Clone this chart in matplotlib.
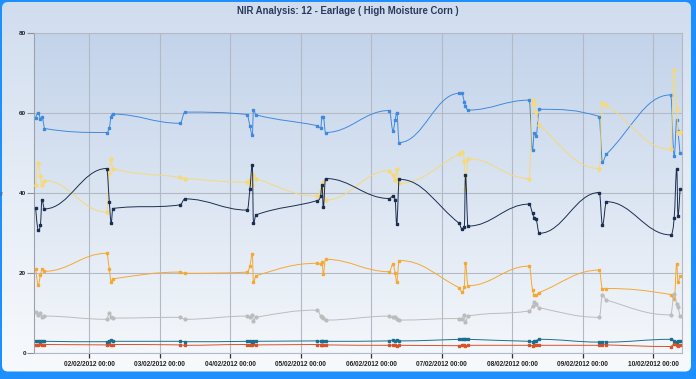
import numpy as np
import pandas as pd
import matplotlib
matplotlib.use('Agg')
from matplotlib import pyplot as plt
import matplotlib.dates as mdates
from matplotlib.path import Path
from matplotlib.patches import PathPatch, FancyBboxPatch
from matplotlib.colors import LinearSegmentedColormap

plt.rcParams['font.family'] = ['Liberation Sans', 'DejaVu Sans']

title = "NIR Analysis: 12 - Earlage ( High Moisture Corn )"

# sample times (same samples for every component)
sample_times = [
    "2012-02-01 05:45", "2012-02-01 06:38", "2012-02-01 07:23", "2012-02-01 07:54", "2012-02-01 08:45",
    "2012-02-02 05:55", "2012-02-02 06:49", "2012-02-02 07:27", "2012-02-02 07:58",
    "2012-02-03 06:53", "2012-02-03 08:35",
    "2012-02-04 05:47", "2012-02-04 06:42", "2012-02-04 07:29", "2012-02-04 07:54", "2012-02-04 08:45",
    "2012-02-05 05:41", "2012-02-05 06:46", "2012-02-05 07:13", "2012-02-05 07:40", "2012-02-05 08:25",
    "2012-02-06 06:08", "2012-02-06 07:23", "2012-02-06 08:08", "2012-02-06 08:39", "2012-02-06 09:30",
    "2012-02-07 05:55", "2012-02-07 06:46", "2012-02-07 07:40", "2012-02-07 08:04", "2012-02-07 08:55",
    "2012-02-08 05:45", "2012-02-08 06:53", "2012-02-08 07:29", "2012-02-08 08:04", "2012-02-08 09:11",
    "2012-02-09 05:37", "2012-02-09 06:42", "2012-02-09 08:04",
    "2012-02-10 05:55", "2012-02-10 07:07", "2012-02-10 07:58", "2012-02-10 08:25", "2012-02-10 09:05",
]

blue = [58.9, 60.2, 58.7, 59.0, 56.2,
        55.2, 56.4, 59.2, 59.8,
        57.5, 60.3,
        59.7, 56.8, 54.5, 60.9, 59.6,
        56.9, 56.3, 59.0, 59.2, 55.2,
        60.7, 55.7, 58.3, 60.2, 52.7,
        65.0, 65.0, 62.9, 61.8, 60.8,
        63.3, 50.8, 55.2, 54.3, 61.0,
        59.2, 47.9, 49.8,
        64.6, 49.3, 58.3, 55.5, 50.0]

yellow = [42.2, 47.5, 44.3, 42.1, 43.2,
          35.3, 45.0, 48.6, 46.2,
          44.0, 43.7,
          42.8, 43.3, 42.1, 44.6, 43.7,
          39.3, 40.5, 41.7, 42.9, 38.3,
          45.7, 44.5, 43.3, 46.0, 42.5,
          49.8, 50.4, 48.2, 41.0, 48.7,
          43.7, 63.3, 62.3, 60.4, 57.1,
          46.2, 62.5, 62.1,
          51.0, 70.8, 61.2, 55.0, 55.4]

navy = [36.3, 30.8, 32.2, 38.3, 36.1,
        46.2, 37.9, 32.7, 36.2,
        37.1, 38.6,
        35.8, 41.2, 47.1, 32.5, 34.6,
        38.2, 39.3, 42.1, 36.5, 43.7,
        38.7, 39.3, 38.3, 32.3, 43.5,
        32.5, 31.2, 31.5, 44.6, 31.8,
        37.3, 35.0, 33.9, 33.5, 30.0,
        40.2, 32.1, 37.9,
        29.6, 33.9, 46.1, 34.4, 41.0]

orange = [21.2, 17.2, 19.6, 21.0, 20.5,
          25.0, 21.1, 17.9, 18.6,
          20.3, 20.0,
          20.3, 21.9, 24.8, 17.8, 19.4,
          22.5, 22.3, 22.8, 19.9, 23.5,
          20.4, 22.3, 20.0, 17.9, 23.2,
          16.4, 15.4, 16.7, 22.5, 16.9,
          21.8, 15.8, 14.7, 14.6, 15.2,
          20.8, 16.1, 16.2,
          14.7, 13.5, 22.3, 17.9, 19.3]

gray = [10.4, 9.6, 10.0, 9.0, 9.3,
        8.5, 10.0, 9.0, 8.8,
        9.0, 8.5,
        9.3, 9.0, 9.7, 8.1, 9.0,
        10.8, 9.3, 9.0, 8.8, 8.3,
        9.3, 9.0, 9.0, 8.6, 8.3,
        8.7, 8.7, 9.6, 7.8, 9.3,
        10.6, 11.8, 12.9, 12.3, 11.4,
        9.0, 14.6, 13.3,
        9.6, 14.8, 12.3, 11.5, 9.3]

red = [2.2, 2.0, 2.3, 2.1, 2.2,
       2.1, 2.3, 2.0, 2.2,
       2.1, 2.0,
       2.2, 2.0, 2.1, 2.3, 2.1,
       2.2, 2.1, 2.0, 2.2, 2.1,
       2.0, 2.1, 2.2, 1.9, 2.0,
       1.9, 2.0, 2.1, 1.9, 2.0,
       2.0, 1.9, 2.1, 2.2, 2.0,
       2.0, 2.2, 2.1,
       1.7, 2.3, 2.0, 1.9, 2.1]

teal = [3.0, 3.2, 3.1, 3.2, 3.0,
        2.9, 3.1, 3.3, 3.0,
        3.0, 2.9,
        3.0, 3.2, 2.9, 3.1, 3.0,
        3.1, 3.0, 3.2, 3.1, 3.0,
        3.1, 3.3, 3.2, 3.4, 3.1,
        3.5, 3.6, 3.5, 3.7, 3.5,
        3.0, 2.9, 3.1, 3.2, 3.5,
        2.8, 2.9, 2.8,
        3.5, 3.2, 2.9, 3.2, 3.0]

y_ticks = [0, 20, 40, 60, 80]
x_start, x_end = "2012-02-01 05:17", "2012-02-10 09:40"


def spline_path(xs, ys, smoothing=1.5):
    # bezier control points like the highcharts "spline" series
    denom = smoothing + 1
    n = len(xs)
    lc = list(zip(xs, ys))
    rc = list(zip(xs, ys))
    for i in range(1, n - 1):
        x, y = xs[i], ys[i]
        lx, ly = xs[i - 1], ys[i - 1]
        nx, ny = xs[i + 1], ys[i + 1]
        lcx = (smoothing * x + lx) / denom
        lcy = (smoothing * y + ly) / denom
        rcx = (smoothing * x + nx) / denom
        rcy = (smoothing * y + ny) / denom
        if rcx != lcx:
            corr = (rcy - lcy) * (rcx - x) / (rcx - lcx) + y - rcy
            lcy += corr
            rcy += corr
        if lcy > ly and lcy > y:
            lcy = max(ly, y); rcy = 2 * y - lcy
        elif lcy < ly and lcy < y:
            lcy = min(ly, y); rcy = 2 * y - lcy
        if rcy > ny and rcy > y:
            rcy = max(ny, y); lcy = 2 * y - rcy
        elif rcy < ny and rcy < y:
            rcy = min(ny, y); lcy = 2 * y - rcy
        lc[i] = (lcx, lcy)
        rc[i] = (rcx, rcy)
    verts = [(xs[0], ys[0])]
    codes = [Path.MOVETO]
    for i in range(1, n):
        verts += [rc[i - 1], lc[i], (xs[i], ys[i])]
        codes += [Path.CURVE4] * 3
    return Path(verts, codes)


W, H = 696, 379
fig = plt.figure(figsize=(W / 100, H / 100), dpi=100)
fig.patch.set_facecolor('#1e8fff')

# outer background with gradient and rounded frame
bg = fig.add_axes([0, 0, 1, 1], zorder=-10)
bg.set_xlim(0, W)
bg.set_ylim(0, H)
bg.axis('off')
grad = np.linspace(0, 1, 256).reshape(-1, 1)
frame = FancyBboxPatch((2, 7.5), 689, 369.5, boxstyle='round,pad=0,rounding_size=6',
                       fc='none', ec='none')
bg.add_patch(frame)
im = bg.imshow(grad, aspect='auto', extent=[0, W, 0, H], origin='upper',
               cmap=LinearSegmentedColormap.from_list('o', ['#d0ddef', '#e6edf6', '#f8fafd']))
im.set_clip_path(frame)

rect = [34.3 / W, (H - 353.3) / H, (681.7 - 34.3) / W, 320 / H]
pbg = fig.add_axes(rect, zorder=-5)
pbg.axis('off')
pbg.imshow(grad, aspect='auto', extent=[0, 1, 0, 1], origin='upper',
           cmap=LinearSegmentedColormap.from_list('p', ['#c3d3ea', '#dbe5f2', '#f4f7fb']))

ax = fig.add_axes(rect)
ax.patch.set_alpha(0)

xs = mdates.date2num(pd.to_datetime(sample_times))

series = [
    (blue, '#4189dc', 's'),
    (yellow, '#f6d97a', 'D'),
    (navy, '#1c2e50', 's'),
    (orange, '#f5a833', 's'),
    (gray, '#bcbcbc', 'o'),
    (red, '#d8522a', 's'),
    (teal, '#1d6e8e', 's'),
]
for i, (vals, color, mk) in enumerate(series):
    ax.add_patch(PathPatch(spline_path(list(xs), vals), fill=False, ec=color, lw=0.7, zorder=3 + i))
    ax.plot(xs, vals, ls='none', marker=mk, ms=2.0 if mk != 'D' else 1.9, color=color, mec=color,
            zorder=3.5 + i)

ax.set_xlim(mdates.date2num(pd.Timestamp(x_start)), mdates.date2num(pd.Timestamp(x_end)))
ax.set_ylim(0, 80)
ax.set_yticks(y_ticks)
ax.xaxis.set_major_locator(mdates.DayLocator())
ax.xaxis.set_major_formatter(mdates.DateFormatter('%d/%m/%Y %H:%M'))
ax.grid(True, color='#b3bac6', lw=0.8, zorder=1)
for s in ax.spines.values():
    s.set_color('#b3bac6')
    s.set_linewidth(0.8)
ax.spines['left'].set_color('#9aa2ae')
ax.tick_params(axis='y', length=5, width=0.8, color='#8a929c', labelsize=4.6, pad=1, labelcolor='#222222')
ax.tick_params(axis='x', length=3.6, width=0.9, color='#333333', labelsize=4.7, pad=2, labelcolor='#222222')
for lab in ax.get_xticklabels() + ax.get_yticklabels():
    lab.set_fontweight('bold')

ax.set_ylabel('%', fontsize=3.5, color='#4a5a7a')
ax.yaxis.set_label_coords(-(34.3 - 5) / (681.7 - 34.3), 0.5)

fig.text(0.5, 1 - 10.5 / H, title, ha='center', va='center', fontsize=6.9,
         fontweight='bold', color='#2b3a5c')

plt.savefig('out.png', dpi=100, facecolor=fig.get_facecolor())
